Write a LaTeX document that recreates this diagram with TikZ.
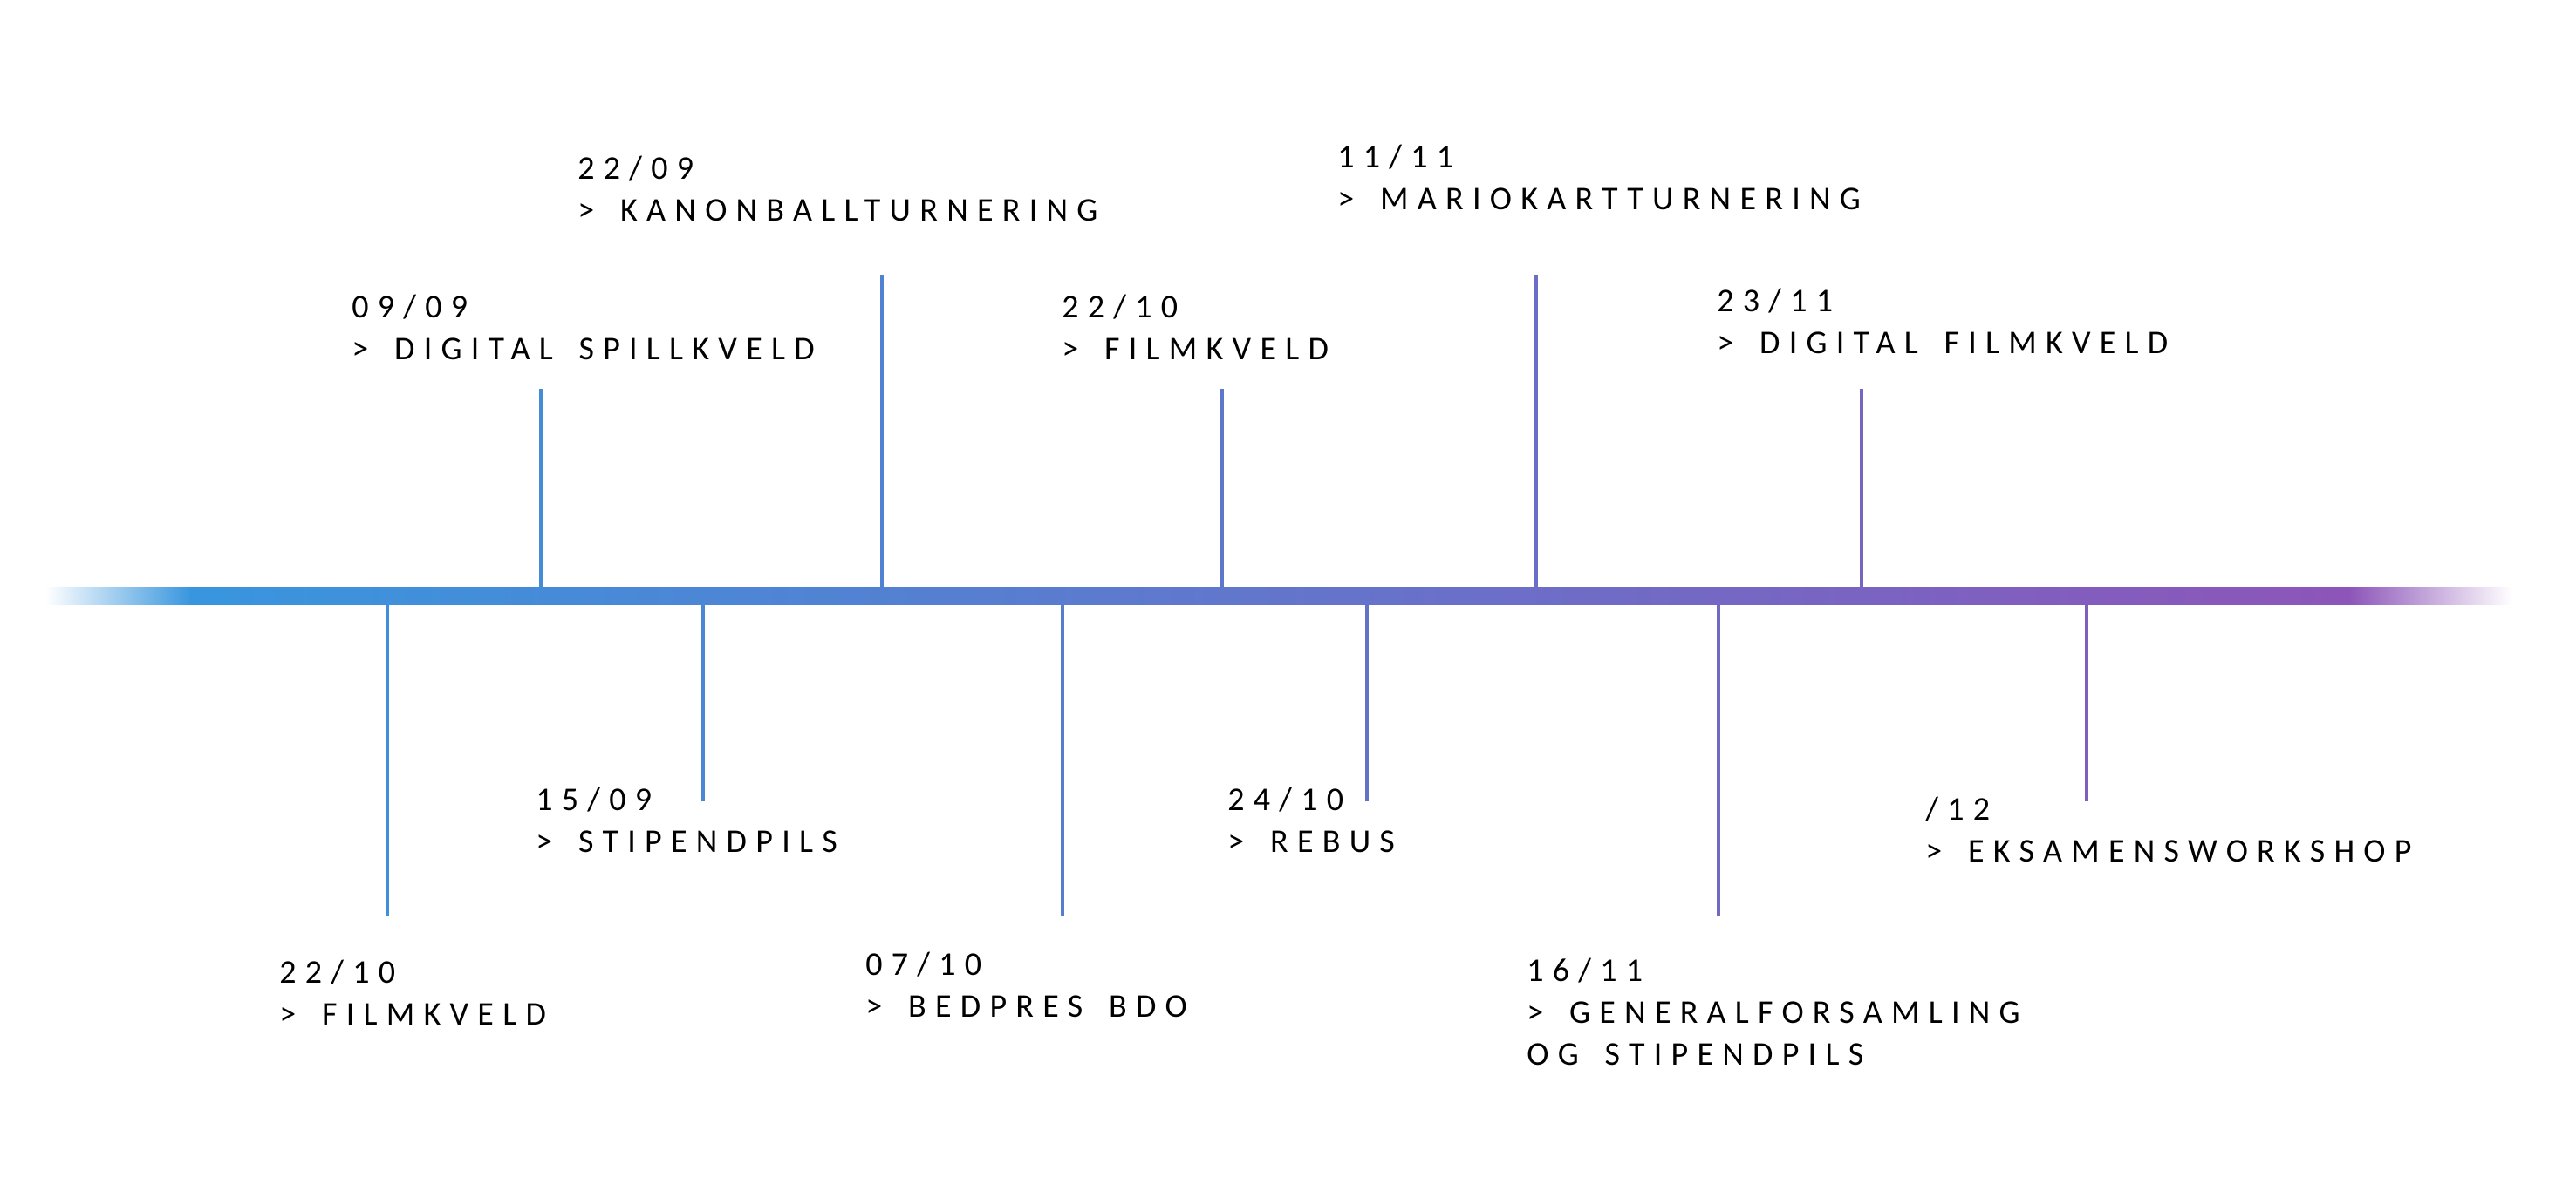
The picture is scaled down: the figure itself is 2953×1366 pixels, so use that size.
\documentclass[tikz,border=0pt]{standalone}
\usepackage{fontspec}
\setmainfont{Carlito}[LetterSpace=27]
\usetikzlibrary{positioning}
\definecolor{ca}{RGB}{56,150,222}
\definecolor{cb}{RGB}{95,119,202}
\definecolor{cc}{RGB}{141,85,185}
\newcommand{\lblfont}{\fontsize{19}{24}\selectfont\spaceskip=\dimexpr\fontdimen2\font+5.5pt\relax}
\tikzset{
  lbl/.style={anchor=base west, inner sep=0pt, align=left, font=\lblfont},
  tick/.style={line width=2pt}
}
\begin{document}
\begin{tikzpicture}[x=0.5pt,y=-0.5pt]
\useasboundingbox (0,0) rectangle (2953,1366);
% bar
\shade[left color=white, right color=ca, draw=none] (52,673) rectangle (219,693);
\shade[left color=ca, middle color=cb, right color=cc, draw=none] (218,673) rectangle (2694,693);
\shade[left color=cc, right color=white, draw=none] (2693,673) rectangle (2880,693);
% tick ends
\coordinate (t1a) at (620,673);  \coordinate (t1b) at (620,446);
\coordinate (t2a) at (1011,673); \coordinate (t2b) at (1011,315);
\coordinate (t3a) at (1401,673); \coordinate (t3b) at (1401,446);
\coordinate (t4a) at (1761,673); \coordinate (t4b) at (1761,315);
\coordinate (t5a) at (2134,673); \coordinate (t5b) at (2134,446);
\coordinate (b1a) at (444,693);  \coordinate (b1b) at (444,1051);
\coordinate (b2a) at (806,693);  \coordinate (b2b) at (806,919);
\coordinate (b3a) at (1218,693); \coordinate (b3b) at (1218,1051);
\coordinate (b4a) at (1567,693); \coordinate (b4b) at (1567,919);
\coordinate (b5a) at (1970,693); \coordinate (b5b) at (1970,1051);
\coordinate (b6a) at (2392,693); \coordinate (b6b) at (2392,919);
\draw[tick, draw=ca!67!cb] (t1a) -- (t1b);
\draw[tick, draw=ca!36!cb] (t2a) -- (t2b);
\draw[tick, draw=ca!4!cb] (t3a) -- (t3b);
\draw[tick, draw=cb!75!cc] (t4a) -- (t4b);
\draw[tick, draw=cb!45!cc] (t5a) -- (t5b);
\draw[tick, draw=ca!82!cb] (b1a) -- (b1b);
\draw[tick, draw=ca!52!cb] (b2a) -- (b2b);
\draw[tick, draw=ca!19!cb] (b3a) -- (b3b);
\draw[tick, draw=cb!91!cc] (b4a) -- (b4b);
\draw[tick, draw=cb!58!cc] (b5a) -- (b5b);
\draw[tick, draw=cb!24!cc] (b6a) -- (b6b);
% labels above (anchor = baseline of last line)
\node[lbl] (l1) at (403,412) {09/09\\> DIGITAL SPILLKVELD};
\node[lbl] (l2) at (662,253) {22/09\\> KANONBALLTURNERING};
\node[lbl] (l3) at (1217,412) {22/10\\> FILMKVELD};
\node[lbl] (l4) at (1533,240) {11/11\\> MARIOKARTTURNERING};
\node[lbl] (l5) at (1968,405) {23/11\\> DIGITAL FILMKVELD};
% labels below
\node[lbl] (m1) at (320,1175) {22/10\\> FILMKVELD};
\node[lbl] (m2) at (614,977) {15/09\\> STIPENDPILS};
\node[lbl] (m3) at (992,1166) {07/10\\> BEDPRES BDO};
\node[lbl] (m4) at (1407,977) {24/10\\> REBUS};
\node[lbl] (m5) at (1750,1221) {16/11\\> GENERALFORSAMLING\\OG STIPENDPILS};
\node[lbl] (m6) at (2207,988) {/12\\> EKSAMENSWORKSHOP};
\end{tikzpicture}
\end{document}
